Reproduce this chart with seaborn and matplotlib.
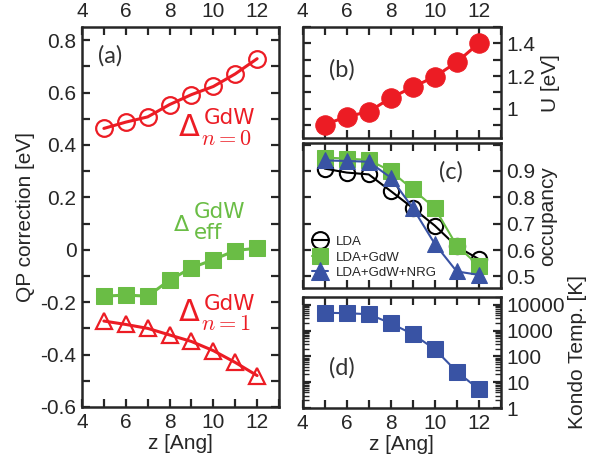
import numpy as np
import pandas as pd
import matplotlib
matplotlib.use('Agg')
import matplotlib.pyplot as plt
import seaborn as sns
from matplotlib.ticker import MultipleLocator, LogLocator, NullFormatter, FixedLocator, FuncFormatter

# distance values
z = [5, 6, 7, 8, 9, 10, 11, 12]

# panel (a): QP corrections [eV]
d_n0 = [0.463, 0.487, 0.507, 0.554, 0.592, 0.623, 0.671, 0.729]
d_eff = [-0.177, -0.173, -0.177, -0.116, -0.069, -0.038, -0.003, 0.006]
d_n1 = [-0.272, -0.285, -0.300, -0.325, -0.350, -0.385, -0.430, -0.480]

# panel (b): U [eV]
u_vals = [0.904, 0.952, 0.983, 1.066, 1.133, 1.196, 1.285, 1.400]

# panel (c): occupancy
occ_lda = [0.909, 0.894, 0.887, 0.824, 0.760, 0.693, 0.614, 0.566]
occ_gdw = [0.951, 0.947, 0.942, 0.900, 0.830, 0.760, 0.617, 0.541]
occ_nrg = [0.940, 0.938, 0.935, 0.875, 0.760, 0.624, 0.519, 0.506]
occ_names = ['LDA', 'LDA+GdW', 'LDA+GdW+NRG']

# panel (d): Kondo temperature [K]
tk_vals = [5000, 4800, 4400, 1950, 740, 194, 26, 5.4]

red = '#ec1c24'
green = '#6abd45'
blue = '#3953a4'

sns.set_style('ticks')
plt.rcParams['font.family'] = ['Liberation Sans', 'DejaVu Sans']
plt.rcParams['mathtext.fontset'] = 'cm'
plt.rcParams['axes.linewidth'] = 1.8

fig = plt.figure(figsize=(5.93, 4.66), dpi=100)
W, H = 593, 466


def box(l, t, r, b):
    return [l / W, 1 - b / H, (r - l) / W, (b - t) / H]


ax_a = fig.add_axes(box(82, 27, 279, 407))
ax_b = fig.add_axes(box(302.7, 27, 500.7, 138.3))
ax_c = fig.add_axes(box(302.7, 143.3, 500.7, 288.3))
ax_d = fig.add_axes(box(302.7, 296.7, 500.7, 408))

fs = 15


def style(ax, top=False, bottom=False, right=False):
    ax.set_xlim(4, 13)
    ax.xaxis.set_major_locator(MultipleLocator(2))
    ax.xaxis.set_minor_locator(MultipleLocator(1))
    ax.tick_params(which='both', direction='in', top=True, bottom=True,
                   left=True, right=True, length=6, width=1.6, pad=4,
                   labelsize=fs, labeltop=top, labelbottom=bottom,
                   labelleft=not right, labelright=right)
    for s in ax.spines.values():
        s.set_linewidth(1.8)
        s.set_visible(True)


def delta_label(ax, x, y, sub, color, dsize=22, sup_off=(18, 9.0), sub_off=(16.5, -6.0),
                sub_math=True):
    # Delta, "GdW" superscript and a subscript, placed by point offsets
    ax.text(x, y, 'Δ', color=color, fontsize=dsize, ha='left', va='baseline',
            family='DejaVu Sans')
    ax.annotate('GdW', (x, y), xytext=sup_off, textcoords='offset points',
                color=color, fontsize=15.5, ha='left', va='baseline', family='DejaVu Sans')
    if sub_math:
        ax.annotate(f'${sub}$', (x, y), xytext=sub_off, textcoords='offset points',
                    color=color, fontsize=16, ha='left', va='baseline')
    else:
        ax.annotate(sub, (x, y), xytext=sub_off, textcoords='offset points',
                    color=color, fontsize=15.5, ha='left', va='baseline', family='DejaVu Sans')


# (a)
sns.lineplot(x=z, y=d_n0, ax=ax_a, color=red, marker='o', markersize=12,
             markerfacecolor='none', markeredgecolor=red, markeredgewidth=1.6,
             linewidth=2.2)
sns.lineplot(x=z, y=d_eff, ax=ax_a, color=green, marker='s', markersize=11,
             markeredgecolor=green, linewidth=2.2)
sns.lineplot(x=z, y=d_n1, ax=ax_a, color=red, marker='^', markersize=12,
             markerfacecolor='none', markeredgecolor=red, markeredgewidth=1.6,
             linewidth=2.2)
style(ax_a, top=True, bottom=True)
ax_a.set_ylim(-0.6, 0.85)
ax_a.yaxis.set_major_locator(FixedLocator([-0.6, -0.4, -0.2, 0, 0.2, 0.4, 0.6, 0.8]))
ax_a.yaxis.set_major_formatter(FuncFormatter(
    lambda v, p: '0' if abs(v) < 1e-9 else f'{v:.1f}'))
ax_a.yaxis.set_minor_locator(MultipleLocator(0.1))
ax_a.set_xlabel('z [Ang]', fontsize=fs, labelpad=2)
ax_a.set_ylabel('QP correction [eV]', fontsize=fs, labelpad=4)
ax_a.text(4.75, 0.715, '(a)', fontsize=17, color='#333333', family='Lato')
delta_label(ax_a, 8.4, 0.433, 'n=0', red)
delta_label(ax_a, 8.2, 0.073, 'eff', green, dsize=16, sup_off=(14.5, 9.0),
            sub_off=(14.5, -6.0), sub_math=False)
delta_label(ax_a, 8.4, -0.272, 'n=1', red, sup_off=(18, 8.2), sub_off=(16.5, -6.8))

# (b)
sns.lineplot(x=z, y=u_vals, ax=ax_b, color=red, marker='o', markersize=14,
             markeredgecolor=red, linewidth=2.2)
style(ax_b, top=True, right=True)
ax_b.set_ylim(0.82, 1.5)
ax_b.yaxis.set_major_locator(FixedLocator([1.0, 1.2, 1.4]))
ax_b.yaxis.set_major_formatter(FuncFormatter(
    lambda v, p: '1' if abs(v - 1) < 1e-9 else f'{v:.1f}'))
ax_b.yaxis.set_minor_locator(MultipleLocator(0.1))
ax_b.yaxis.set_label_position('right')
ax_b.set_ylabel('U [eV]', fontsize=fs, labelpad=4)
ax_b.text(5.2, 1.2, '(b)', fontsize=17, color='#333333', family='Lato')

# (c)
occ = pd.DataFrame({'z': z * 3,
                    'occ': occ_lda + occ_gdw + occ_nrg,
                    'method': [occ_names[0]] * 8 + [occ_names[1]] * 8 + [occ_names[2]] * 8})
sns.lineplot(data=occ[occ.method == 'LDA'], x='z', y='occ', ax=ax_c, color='black',
             marker='o', markersize=11, markerfacecolor='none', markeredgecolor='black',
             markeredgewidth=1.5, linewidth=1.5, label='LDA')
sns.lineplot(data=occ[occ.method == 'LDA+GdW'], x='z', y='occ', ax=ax_c, color=green,
             marker='s', markersize=11, markeredgecolor=green, linewidth=1.5, label='LDA+GdW')
sns.lineplot(data=occ[occ.method == 'LDA+GdW+NRG'], x='z', y='occ', ax=ax_c, color=blue,
             marker='^', markersize=12, markeredgecolor=blue, linewidth=1.5, label='LDA+GdW+NRG')
style(ax_c, right=True)
ax_c.set_ylim(0.455, 1.005)
ax_c.yaxis.set_major_locator(FixedLocator([0.5, 0.6, 0.7, 0.8, 0.9]))
ax_c.yaxis.set_major_formatter(FuncFormatter(lambda v, p: f'{v:.1f}'))
ax_c.yaxis.set_minor_locator(FixedLocator([1.0]))
ax_c.yaxis.set_label_position('right')
ax_c.set_ylabel('occupancy', fontsize=fs, labelpad=2)
ax_c.set_xlabel('')
ax_c.text(10.2, 0.87, '(c)', fontsize=17, color='#333333', family='Lato')
ax_c.legend(loc='lower left', frameon=False, fontsize=9.5, handlelength=1.2,
            handletextpad=0.6, labelspacing=0.25, borderaxespad=0.3, markerscale=1.1)

# (d)
sns.lineplot(x=z, y=tk_vals, ax=ax_d, color=blue, marker='s', markersize=11,
             markeredgecolor=blue, linewidth=1.5)
ax_d.set_yscale('log')
style(ax_d, bottom=True, right=True)
ax_d.set_ylim(1, 2.1e4)
ax_d.yaxis.set_major_locator(FixedLocator([1, 10, 100, 1000, 10000]))
ax_d.yaxis.set_major_formatter(FuncFormatter(lambda v, p: f'{v:.0f}'))
ax_d.yaxis.set_minor_locator(LogLocator(base=10, subs=np.arange(2, 10), numticks=20))
ax_d.yaxis.set_minor_formatter(NullFormatter())
ax_d.tick_params(axis='y', which='minor', length=4, width=1.0)
ax_d.yaxis.set_label_position('right')
ax_d.set_ylabel('Kondo Temp. [K]', fontsize=fs, labelpad=2)
ax_d.set_xlabel('z [Ang]', fontsize=fs, labelpad=2)
ax_d.text(5.2, 20, '(d)', fontsize=17, color='#333333', family='Lato')

fig.savefig('out.png', dpi=100)
